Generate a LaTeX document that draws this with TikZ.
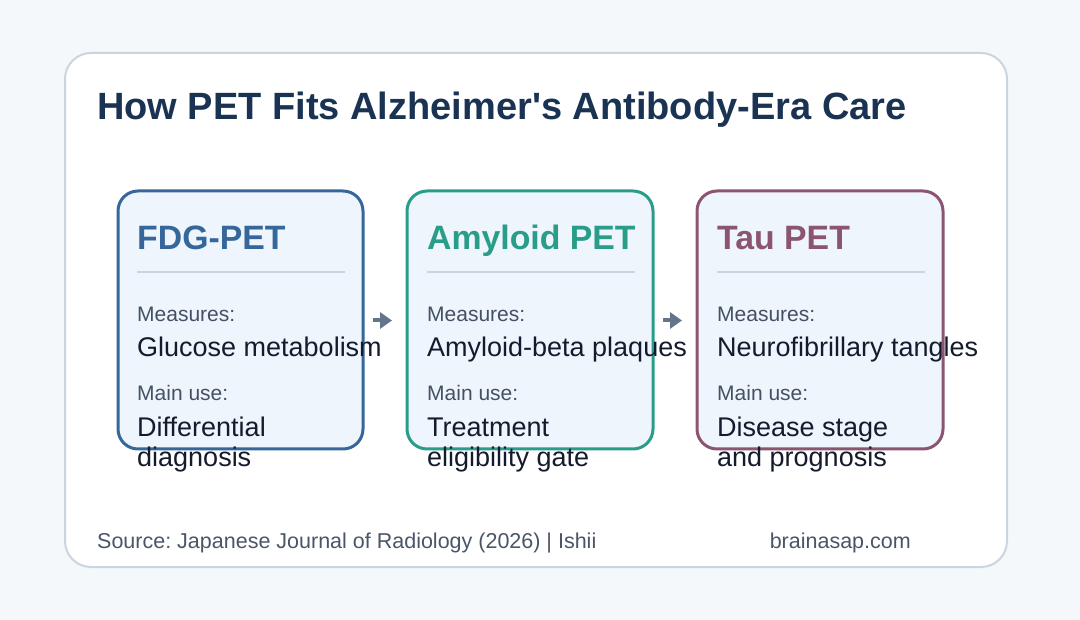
\documentclass[tikz,border=0pt]{standalone}
\usepackage{fontspec}
\setmainfont{Liberation Sans}[Ligatures=TeXOff]
\usetikzlibrary{arrows.meta}
\definecolor{bgc}{HTML}{F5F8FB}
\definecolor{cardline}{HTML}{CBD5E1}
\definecolor{titlec}{HTML}{1A3352}
\definecolor{fdgc}{HTML}{36679A}
\definecolor{amyc}{HTML}{2A9D8A}
\definecolor{tauc}{HTML}{8B5572}
\definecolor{boxfill}{HTML}{EEF5FC}
\definecolor{labc}{HTML}{445064}
\definecolor{bodyc}{HTML}{141B2D}
\definecolor{arrc}{HTML}{64748B}
\definecolor{footc}{HTML}{4A5568}
\tikzset{
  petbox/.style={draw=#1, line width=3pt, fill=boxfill, rounded corners=20pt},
  heading/.style={anchor=base west, inner sep=0pt, text=#1, font=\fontsize{33.8}{36}\selectfont\bfseries},
  lab/.style={anchor=base west, inner sep=0pt, text=labc, font=\fontsize{21}{24}\selectfont},
  body/.style={anchor=base west, inner sep=0pt, text=bodyc, font=\fontsize{27}{30}\selectfont, align=left},
  sep/.style={draw=cardline, line width=2pt},
  flow/.style={draw=arrc, line width=4pt, -{Triangle[length=12pt,width=16pt]}},
  foot/.style={inner sep=0pt, text=footc, font=\fontsize{21.5}{24}\selectfont},
}
\frenchspacing
\begin{document}
\begin{tikzpicture}[x=1pt,y=-1pt]
\useasboundingbox (0,0) rectangle (1080,620);
\fill[bgc] (0,0) rectangle (1080,620);
\draw[cardline, line width=2pt, fill=white, rounded corners=26pt] (65,53) rectangle (1007,567);
\node[anchor=base west, inner sep=0pt, text=titlec, font=\fontsize{38}{40}\selectfont\bfseries] (title) at (97,120) {How PET Fits Alzheimer's Antibody-Era Care};

% boxes
\draw[petbox=fdgc] (118,191) rectangle (363,449);
\draw[petbox=amyc] (407,191) rectangle (653,449);
\draw[petbox=tauc] (697,191) rectangle (943,449);

\foreach \x/\c/\h/\m/\a/\b [count=\i] in {137/fdgc/FDG-PET/Glucose metabolism/Differential/diagnosis,
  427/amyc/Amyloid PET/Amyloid-beta plaques/Treatment/eligibility gate,
  717/tauc/Tau PET/Neurofibrillary tangles/Disease stage/and prognosis}{
  \node[heading=\c] (h\i) at (\x,250) {\h};
  \draw[sep] (\x,272) -- (\x+208,272);
  \node[lab] (ml\i) at (\x,322) {Measures:};
  \node[body] (mv\i) at (\x,357) {\m};
  \node[lab] (ul\i) at (\x,401) {Main use:};
  \node[body] (ua\i) at (\x,437) {\a};
  \node[body] (ub\i) at (\x,467) {\b};
}

\coordinate (a1s) at (373,320.5);
\coordinate (a1e) at (392,320.5);
\coordinate (a2s) at (663,320.5);
\coordinate (a2e) at (682,320.5);
\draw[flow] (a1s) -- (a1e);
\draw[flow] (a2s) -- (a2e);

\node[foot, anchor=base west] (src) at (97,548) {Source: Japanese Journal of Radiology (2026) | Ishii};
\node[foot, anchor=base east] (site) at (911,548) {brainasap.com};
\end{tikzpicture}
\end{document}
